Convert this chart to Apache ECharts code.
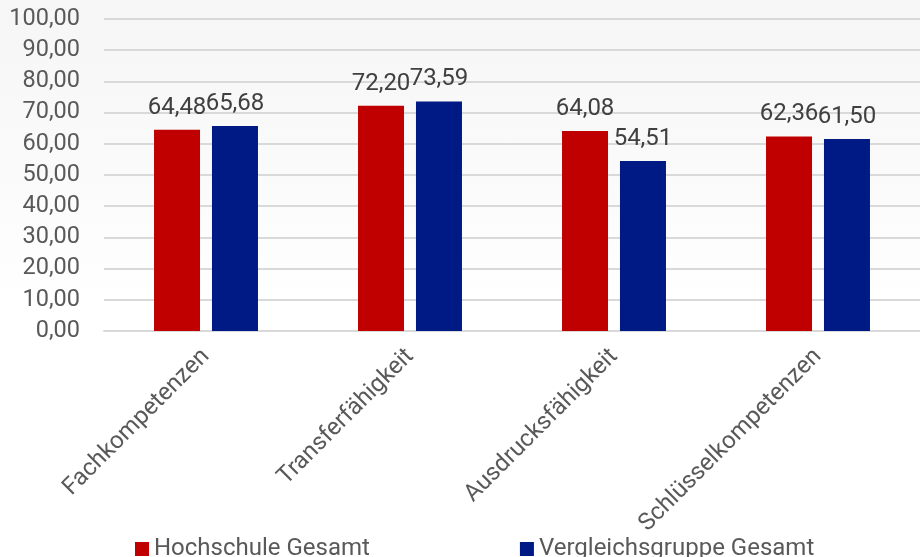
<!DOCTYPE html>
<html>
<head>
<meta charset="utf-8">
<script src="https://cdn.jsdelivr.net/npm/echarts@6/dist/echarts.min.js"></script>
<style>
  html, body { margin: 0; padding: 0; }
  body {
    width: 920px;
    height: 557px;
    background: linear-gradient(to bottom, #f6f6f6 0%, #fafafa 30%, #ffffff 55%);
  }
  #chart { width: 920px; height: 557px; }
</style>
</head>
<body>
<div id="chart"></div>
<script>
const categories = ['Fachkompetenzen', 'Transferfähigkeit', 'Ausdrucksfähigkeit', 'Schlüsselkompetenzen'];
const hochschule = [64.48, 72.20, 64.08, 62.36];
const vergleich = [65.68, 73.59, 54.51, 61.50];
const seriesNames = ['Hochschule Gesamt', 'Vergleichsgruppe Gesamt'];

// deutsches Zahlenformat: Komma statt Punkt
const fmt = v => Number(v).toFixed(2).replace('.', ',');

const chart = echarts.init(document.getElementById('chart'));

const labelStyle = {
  show: true,
  position: 'top',
  distance: 10,
  color: '#404040',
  fontSize: 24,
  fontFamily: 'Roboto',
  formatter: p => fmt(p.value)
};

chart.setOption({
  backgroundColor: 'transparent',
  animation: false,
  textStyle: { fontFamily: 'Roboto' },
  grid: { left: 104, right: 0, top: 19, bottom: 226 },
  legend: {
    data: seriesNames,
    left: 130,
    top: 532,
    itemWidth: 14,
    itemHeight: 14,
    itemGap: 150,
    icon: 'rect',
    textStyle: { color: '#595959', fontSize: 24, fontFamily: 'Roboto' }
  },
  xAxis: {
    type: 'category',
    data: categories,
    axisLine: { lineStyle: { color: '#d9d9d9', width: 2 } },
    axisTick: { show: false },
    axisLabel: {
      rotate: 45,
      interval: 0,
      margin: 22,
      color: '#595959',
      fontSize: 24,
      fontFamily: 'Roboto'
    }
  },
  yAxis: {
    type: 'value',
    min: 0,
    max: 100,
    interval: 10,
    axisLine: { show: false },
    axisTick: { show: false },
    splitLine: { lineStyle: { color: '#d9d9d9', width: 2 } },
    axisLabel: {
      margin: 24,
      color: '#595959',
      fontSize: 23.5,
      fontFamily: 'Roboto',
      formatter: v => fmt(v)
    }
  },
  series: [
    {
      name: seriesNames[0],
      type: 'bar',
      data: hochschule,
      barWidth: 46,
      barGap: '26%',
      itemStyle: { color: '#c00000' },
      label: labelStyle
    },
    {
      name: seriesNames[1],
      type: 'bar',
      data: vergleich,
      barWidth: 46,
      itemStyle: { color: '#001a85' },
      label: labelStyle
    }
  ]
});

window.addEventListener('resize', () => chart.resize());
</script>
</body>
</html>
